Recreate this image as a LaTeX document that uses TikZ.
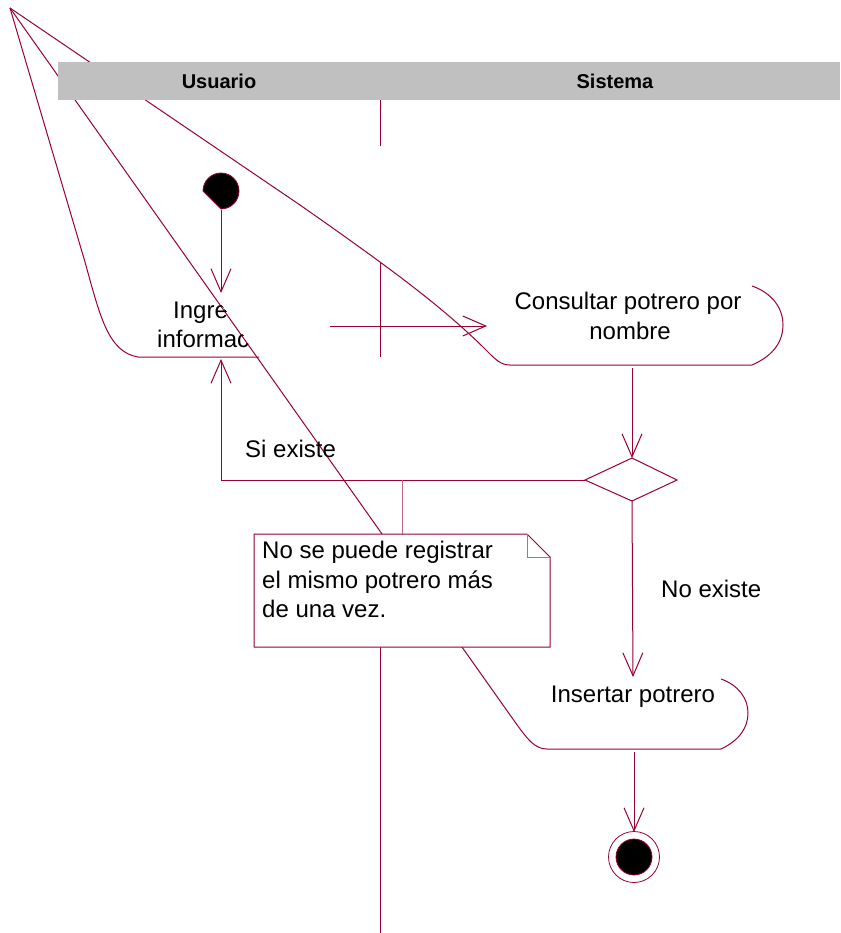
\documentclass[tikz,border=0pt]{standalone}
\usepackage{fontspec}
\setmainfont{Liberation Sans}
\usetikzlibrary{arrows.meta}
\definecolor{rose}{RGB}{153,0,51}
\definecolor{hdrgray}{RGB}{192,192,192}
\begin{document}
\begin{tikzpicture}[x=1pt,y=-1pt,
  ln/.style={draw=rose,line width=1pt},
  arr/.style={ln,-{Straight Barb[length=23pt,width=20pt]}},
  lbl/.style={font=\fontsize{24}{29}\selectfont,inner sep=0pt,anchor=base west},
  hdr/.style={font=\bfseries\fontsize{20}{24}\selectfont,inner sep=0pt,anchor=base}
]
\useasboundingbox (0,0) rectangle (840,933);

% coordinates
\coordinate (apex) at (10,8);
\coordinate (sc) at (221,191);
\coordinate (sbot) at (221,210);
\coordinate (ingtop) at (221,293);
\coordinate (ingout) at (330,326);
\coordinate (conin) at (487,326);
\coordinate (conbot) at (632,368);
\coordinate (dtop) at (632,458);
\coordinate (dright) at (677,480);
\coordinate (dbot) at (632,501);
\coordinate (dleft) at (585,480);
\coordinate (elbow) at (221,480);
\coordinate (ingbot) at (221,359);
\coordinate (instop) at (633,677);
\coordinate (insbot) at (634,752);
\coordinate (fc) at (634,857);
\coordinate (ftop) at (634,832);
\coordinate (notea) at (402,480);
\coordinate (noteb) at (402,534);

% distorted activity outlines
\draw[ln] (apex) -- (85,262) .. controls (100,316) and (108,352) .. (138,357) -- (259,357);
\draw[ln] (apex) -- (300,205) .. controls (390,268) and (440,305) .. (483,347)
  .. controls (495,359) and (500,365) .. (510,365) -- (752,365)
  .. controls (775,355) and (783,340) .. (783,325)
  .. controls (783,308) and (772,293) .. (752,286);
\draw[ln] (apex) -- (515,722) .. controls (528,740) and (535,749) .. (547,749) -- (721,749)
  .. controls (740,740) and (748,727) .. (748,713)
  .. controls (748,698) and (738,685) .. (721,679);

% swimlane divider pieces
\draw[ln] (380,100) -- (380,146);
\draw[ln] (380,262) -- (380,357);
\draw[ln] (380,647) -- (380,933);

% header
\fill[hdrgray] (58,62) rectangle (840,100);
\node[hdr] (usuario) at (219,88.5) {Usuario};
\node[hdr] (sistema) at (615,88.5) {Sistema};

% start node
\draw[draw=rose,line width=0.8pt,fill=black] (203,191) arc[start angle=180,end angle=450,radius=18] -- cycle;

% activity texts
\begin{scope}
\clip (apex) -- (560,780) -- (0,780) -- (0,0) -- cycle;
\node[lbl] (ing1) at (173,318) {Ingre};
\node[lbl] (ing2) at (157,347) {informac};
\end{scope}
\node[lbl,anchor=base] (con1) at (628,309) {Consultar potrero por};
\node[lbl,anchor=base] (con2) at (630,339) {nombre};
\node[lbl,anchor=base] (ins) at (633,702) {Insertar potrero};
\node[lbl] (si) at (245,457) {Si existe};
\node[lbl] (no) at (661,597) {No existe};

% decision
\draw[ln] (dtop) -- (dright) -- (dbot) -- (dleft) -- cycle;

% connectors
\draw[arr] (sbot) -- (ingtop);
\draw[arr] (ingout) -- (conin);
\draw[arr] (conbot) -- (dtop);
\draw[arr] (dleft) -- (elbow) -- (ingbot);
\draw[arr] (dbot) -- (instop);
\draw[arr] (insbot) -- (ftop);

% final node
\draw[draw=rose,line width=0.8pt,fill=white] (fc) circle[radius=25.5];
\draw[draw=rose,line width=0.8pt,fill=black] (fc) circle[radius=18];

% note
\draw[draw=rose!60,line width=0.8pt] (notea) -- (noteb);
\draw[ln,fill=white] (254,534) -- (527,534) -- (550,557) -- (550,647) -- (254,647) -- cycle;
\draw[draw=rose!60,line width=0.8pt] (527,534) -- (527,557) -- (550,557);
\node[lbl] (n1) at (262,558) {No se puede registrar};
\node[lbl] (n2) at (262,588) {el mismo potrero más};
\node[lbl] (n3) at (262,617) {de una vez.};
\end{tikzpicture}
\end{document}
